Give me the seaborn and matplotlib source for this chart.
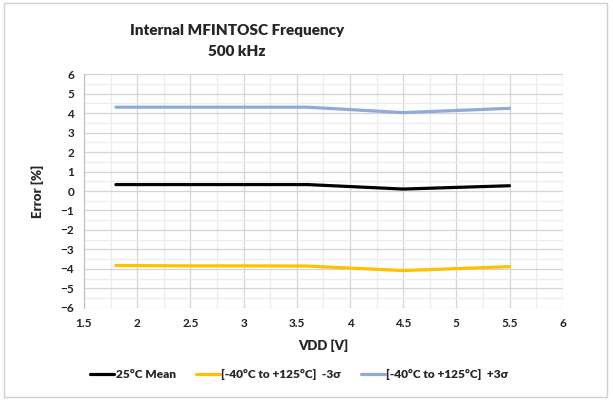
import numpy as np
import pandas as pd
import matplotlib
matplotlib.use("Agg")
import matplotlib.pyplot as plt
import seaborn as sns
from matplotlib.patches import Rectangle
from matplotlib.ticker import MultipleLocator

# valores
vdd = [1.8, 2.5, 3.0, 3.6, 4.5, 5.5]
media_25c = [0.33, 0.33, 0.33, 0.33, 0.10, 0.27]
menos_3s = [-3.82, -3.84, -3.84, -3.85, -4.08, -3.88]
mais_3s = [4.30, 4.30, 4.30, 4.30, 4.02, 4.24]

series = ["25°C Mean", "[-40°C to +125°C]  -3σ", "[-40°C to +125°C]  +3σ"]
cores = ["#000000", "#FFC000", "#8FAADC"]
rotulos_x = ["1.5", "2", "2.5", "3", "3.5", "4", "4.5", "5", "5.5", "6"]

df = pd.DataFrame({
    "vdd": vdd * 3,
    "erro": media_25c + menos_3s + mais_3s,
    "serie": [series[0]] * len(vdd) + [series[1]] * len(vdd) + [series[2]] * len(vdd),
})

sns.set_style("white")
plt.rcParams["font.family"] = ["Lato", "DejaVu Sans"]

fig = plt.figure(figsize=(6.13, 4.09), dpi=100)
ax = fig.add_axes([0.137, 0.247, 0.781, 0.572])

sns.lineplot(data=df, x="vdd", y="erro", hue="serie", hue_order=series,
             palette=cores, linewidth=2.3, ax=ax, legend=False)

ax.set_xlim(1.5, 6)
ax.set_ylim(-6, 6)
ax.xaxis.set_major_locator(MultipleLocator(0.5))
ax.xaxis.set_minor_locator(MultipleLocator(0.25))
ax.yaxis.set_major_locator(MultipleLocator(1))
ax.yaxis.set_minor_locator(MultipleLocator(0.5))
ax.grid(which="major", color="#d4d4d4", linewidth=0.9)
ax.grid(which="minor", color="#ececec", linewidth=0.9)
ax.set_axisbelow(True)
for s in ax.spines.values():
    s.set_visible(False)
ax.spines["left"].set_visible(True)
ax.spines["left"].set_color("#bfbfbf")
ax.tick_params(axis="both", which="both", length=0, labelsize=8.5, colors="#222222", pad=7)
ax.set_xticks(np.arange(1.5, 6.01, 0.5))
ax.set_xticklabels(rotulos_x)
for t in ax.get_yticklabels() + ax.get_xticklabels():
    t.set_fontweight("bold")

ax.set_xlabel("VDD [V]", fontsize=9.5, fontweight="heavy", labelpad=8)
ax.set_ylabel("Error [%]", fontsize=9.5, fontweight="heavy", labelpad=12)

fig.text(0.387, 0.90, "Internal MFINTOSC Frequency\n500 kHz", ha="center", va="center",
         fontsize=11, fontweight="heavy", linespacing=1.75)

handles = [plt.Line2D([], [], color=c, linewidth=2.3) for c in cores]
fig.legend(handles, series, loc="center left", bbox_to_anchor=(0.13, 0.085), ncol=3,
           frameon=False, handlelength=2.0, handletextpad=0.1,
           columnspacing=1.7, prop={"weight": "heavy", "size": 8.6})

fig.patches.append(Rectangle((0.006, 0.03), 0.984, 0.962, transform=fig.transFigure,
                             fill=False, edgecolor="#d0d0d0", linewidth=1))

fig.savefig("out.png", dpi=100)
